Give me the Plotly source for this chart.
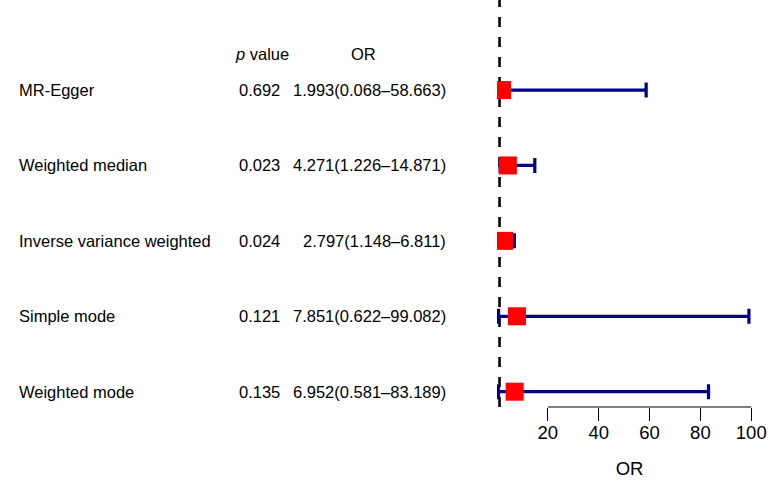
import plotly.graph_objects as go

methods = ["MR-Egger", "Weighted median", "Inverse variance weighted", "Simple mode", "Weighted mode"]
p_values = ["0.692", "0.023", "0.024", "0.121", "0.135"]
or_est = [1.993, 4.271, 2.797, 7.851, 6.952]
or_low = [0.068, 1.226, 1.148, 0.622, 0.581]
or_high = [58.663, 14.871, 6.811, 99.082, 83.189]
tick_vals = [20, 40, 60, 80, 100]

n = len(methods)
row_y = [n - i for i in range(n)]  # top row highest

W, H = 780, 489
L, R, T, B = 497, 18, 0, 82
plot_w = W - L - R
px_per_unit = 2.5425
x_max = plot_w / px_per_unit
y_top = 6.194
y_bot = 0.797

FONT = "Liberation Sans, Arial, Helvetica, sans-serif"

def px2paper(px):
    return (px - L) / plot_w

fig = go.Figure()
fig.add_trace(go.Scatter(
    x=or_est, y=row_y, mode="markers",
    marker=dict(symbol="square", size=18, color="#FF0000", line=dict(width=0)),
    error_x=dict(type="data", symmetric=False,
                 array=[h - e for h, e in zip(or_high, or_est)],
                 arrayminus=[e - l for e, l in zip(or_est, or_low)],
                 color="#00008B", thickness=3.2, width=7.5),
    showlegend=False, hoverinfo="skip", cliponaxis=True,
))

annotations = []
for i in range(n):
    annotations.append(dict(x=px2paper(17), y=row_y[i], xref="paper", yref="y",
                            text=methods[i], showarrow=False, xanchor="left", yanchor="middle",
                            font=dict(family=FONT, size=16.5, color="black")))
    annotations.append(dict(x=px2paper(259), y=row_y[i], xref="paper", yref="y",
                            text=p_values[i], showarrow=False, xanchor="center", yanchor="middle",
                            font=dict(family=FONT, size=16.5, color="black")))
    or_txt = f"{or_est[i]:.3f}({or_low[i]:.3f}\u2013{or_high[i]:.3f})"
    annotations.append(dict(x=px2paper(448), y=row_y[i], xref="paper", yref="y",
                            text=or_txt, showarrow=False, xanchor="right", yanchor="middle",
                            font=dict(family=FONT, size=16.5, color="black")))

header_y = n + 36 / 75.41
annotations.append(dict(x=px2paper(262), y=header_y, xref="paper", yref="y",
                        text="<i>p</i> value", showarrow=False, xanchor="center", yanchor="middle",
                        font=dict(family=FONT, size=16.5, color="black")))
annotations.append(dict(x=px2paper(363), y=header_y, xref="paper", yref="y",
                        text="OR", showarrow=False, xanchor="center", yanchor="middle",
                        font=dict(family=FONT, size=16.5, color="black")))

shapes = [
    dict(type="line", xref="x", yref="paper", x0=1, x1=1, y0=0, y1=1,
         line=dict(color="black", width=2.6, dash="10px,10px"), layer="below"),
    dict(type="line", xref="x", yref="paper", x0=tick_vals[0], x1=tick_vals[-1], y0=0, y1=0,
         line=dict(color="black", width=1.2)),
]

fig.update_layout(
    width=W, height=H,
    margin=dict(l=L, r=R, t=T, b=B, pad=0),
    paper_bgcolor="white", plot_bgcolor="white",
    annotations=annotations, shapes=shapes,
    xaxis=dict(range=[0, x_max], tickvals=tick_vals, ticktext=[str(v) for v in tick_vals],
               ticks="outside", ticklen=13, tickwidth=1.2, tickcolor="black",
               ticklabelstandoff=-4,
               showline=False, showgrid=False, zeroline=False,
               tickfont=dict(family=FONT, size=18.5, color="black"),
               title=dict(text="OR", font=dict(family=FONT, size=18.5, color="black"), standoff=19)),
    yaxis=dict(range=[y_bot, y_top], visible=False, showgrid=False, zeroline=False),
    font=dict(family=FONT),
)

fig.write_html("out.html")
